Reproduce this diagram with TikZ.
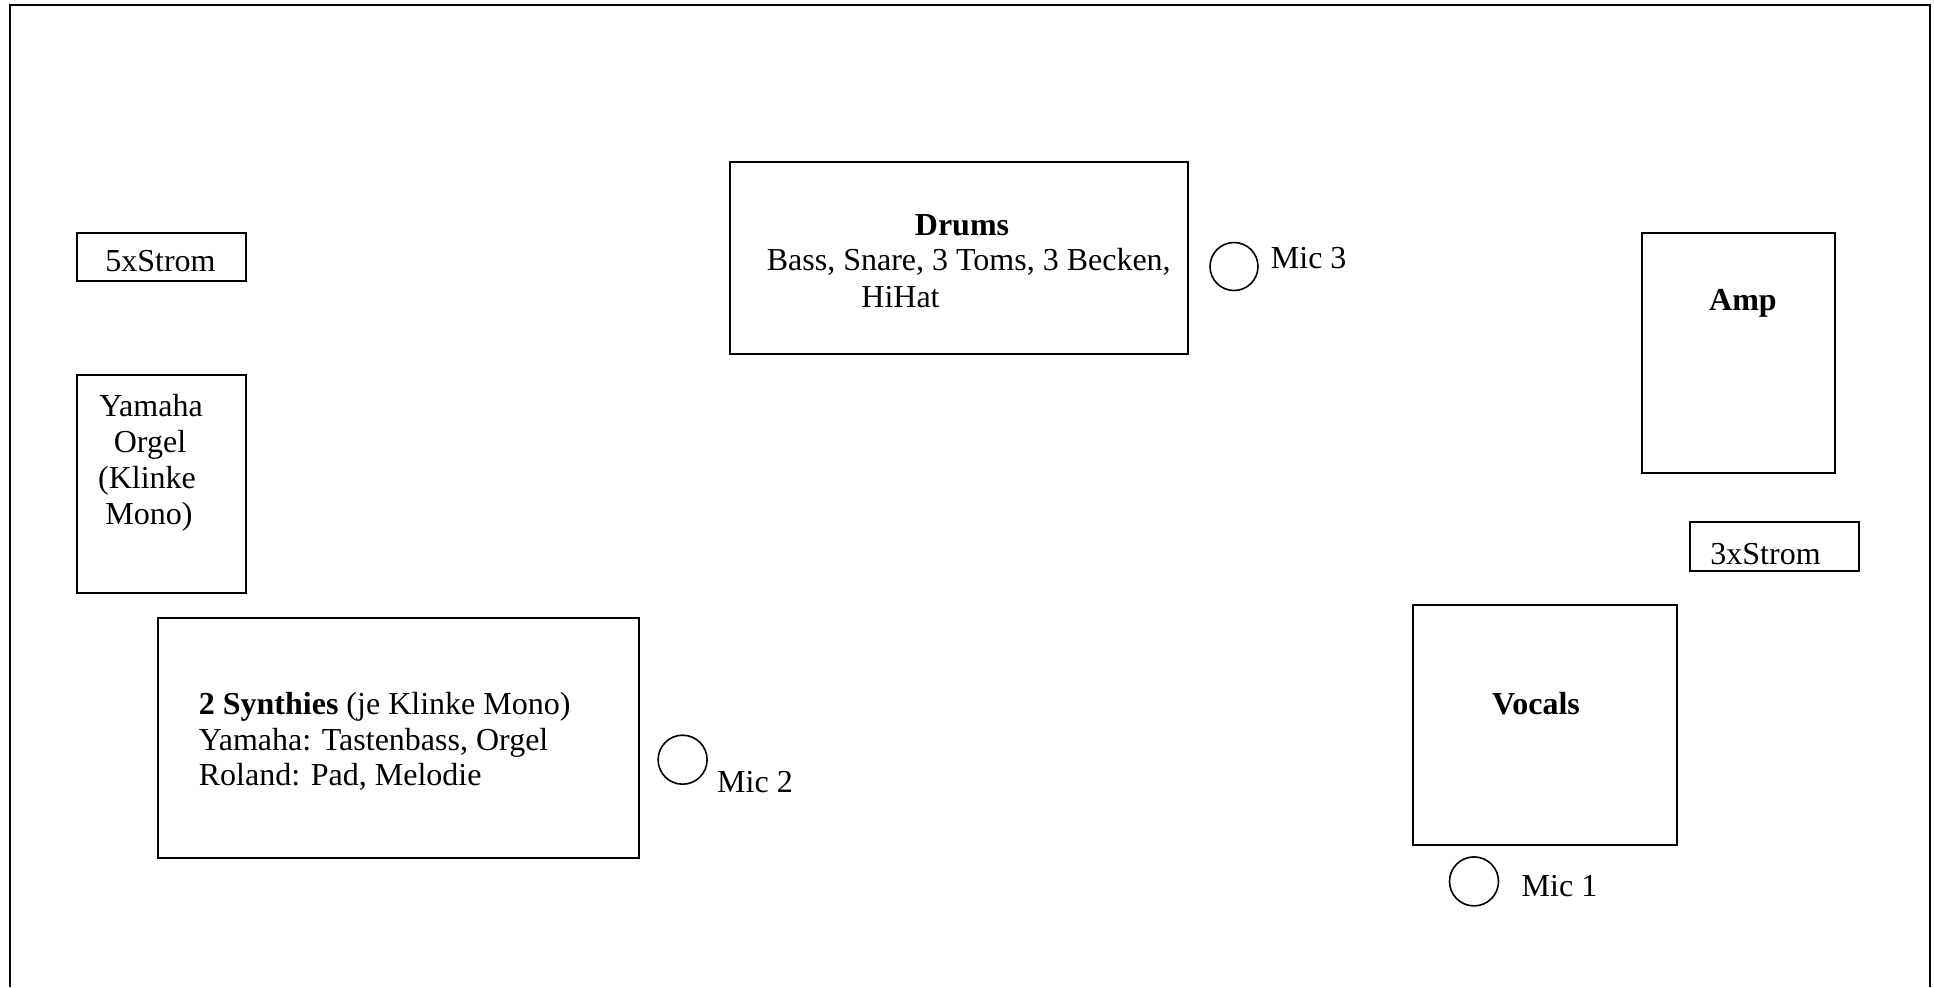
\documentclass[tikz,border=0pt]{standalone}
\usepackage{fontspec}
\setmainfont{Liberation Serif}
\begin{document}
\begin{tikzpicture}[x=0.5pt,y=-0.5pt,
  box/.style={draw,line width=1pt,inner sep=0pt,rectangle},
  lbl/.style={inner sep=0pt,font=\fontsize{16pt}{18.3pt}\selectfont},
  mic/.style={draw,circle,line width=0.8pt,inner sep=0pt,minimum size=24.5pt}]
\useasboundingbox (0,0) rectangle (1934,987);
\draw[line width=1.2pt] (10,987) -- (10,5) -- (1930,5) -- (1930,987);

% boxes
\node[box,minimum width=84.5pt,minimum height=24pt] (strom5) at (161.5,257) {};
\node[box,minimum width=84.5pt,minimum height=109pt] (yamaha) at (161.5,484) {};
\node[box,minimum width=228.75pt,minimum height=96pt] (drums) at (958.75,258) {};
\node[box,minimum width=96.5pt,minimum height=119.75pt] (amp) at (1738.5,352.75) {};
\node[box,minimum width=84.5pt,minimum height=24.25pt] (strom3) at (1774.5,546.25) {};
\node[box,minimum width=132.25pt,minimum height=119.75pt] (vocals) at (1544.75,724.75) {};
\node[box,minimum width=240.35pt,minimum height=120pt] (synth) at (398.35,738.3) {};

% microphones
\node[mic,minimum size=24pt] (mic3) at (1234,266.5) {};
\node[mic] (mic2) at (682.6,759.7) {};
\node[mic] (mic1) at (1474,881.4) {};

% texts
\node[lbl,anchor=base west] (t5) at (105,271) {5xStrom};
\node[lbl,anchor=base] (ty1) at (151,416.7) {Yamaha};
\node[lbl,anchor=base] (ty2) at (150,452.5) {Orgel};
\node[lbl,anchor=base] (ty3) at (147,488.3) {(Klinke};
\node[lbl,anchor=base] (ty4) at (149,524) {Mono)};

\node[lbl,anchor=base] (td1) at (962,235) {\textbf{Drums}};
\node[lbl,anchor=base west] (td2) at (766.4,270.5) {Bass, Snare, 3 Toms, 3 Becken,};
\node[lbl,anchor=base west] (td3) at (861,307.5) {HiHat};
\node[lbl,anchor=base west] (tm3) at (1270.5,268) {Mic 3};

\node[lbl,anchor=base] (tamp) at (1743,310) {\textbf{Amp}};
\node[lbl,anchor=base west] (t3) at (1710,564) {3xStrom};
\node[lbl,anchor=base] (tvoc) at (1536,714) {\textbf{Vocals}};
\node[lbl,anchor=base west] (tm1) at (1521.3,896) {Mic 1};

\node[lbl,anchor=base west] (ts1) at (198.5,714.5) {\textbf{2 Synthies} (je Klinke Mono)};
\node[lbl,anchor=base west] (ts2) at (198.5,750) {Yamaha: Tastenbass, Orgel};
\node[lbl,anchor=base west] (ts3) at (198.5,785.5) {Roland: Pad, Melodie};
\node[lbl,anchor=base west] (tm2) at (716.8,792) {Mic 2};
\end{tikzpicture}
\end{document}
